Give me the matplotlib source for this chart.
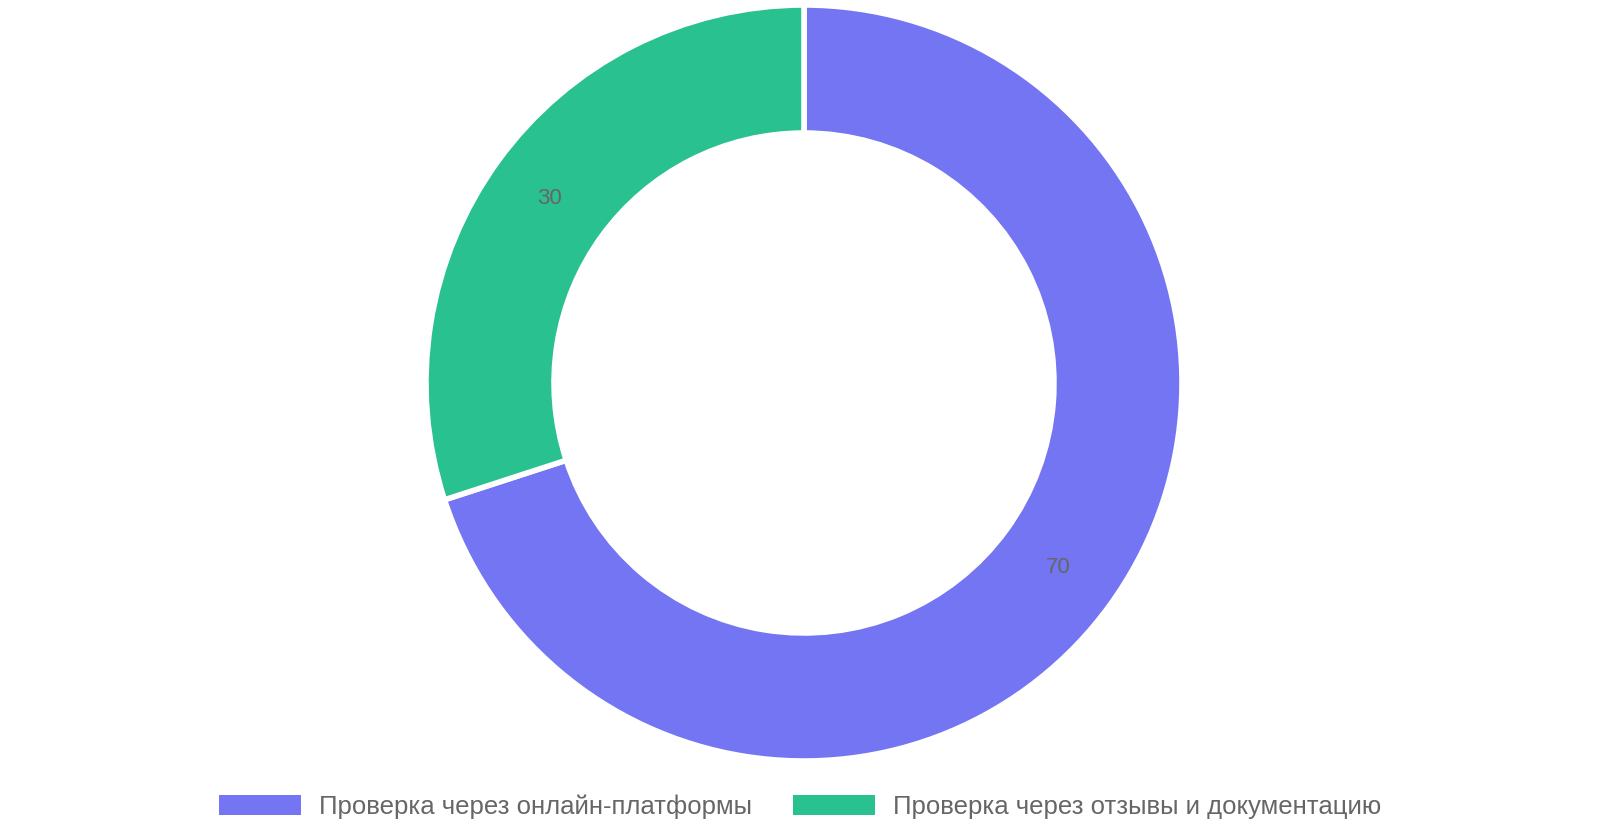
import matplotlib
matplotlib.use("Agg")
import matplotlib.pyplot as plt
from matplotlib.patches import Patch
import numpy as np

plt.rcParams['font.family'] = ['Liberation Sans', 'DejaVu Sans']

labels = ["Проверка через онлайн-платформы", "Проверка через отзывы и документацию"]
values = [70, 30]
colors = ["#7375F2", "#29C190"]

W, H = 1600, 840
fig = plt.figure(figsize=(16, 8.4), dpi=100)
ax = fig.add_axes([0, 0, 1, 1])
R = 378.0
cx, cy = 804, 383
inner = 250 / R
wedges, _ = ax.pie(values, colors=colors, startangle=90, counterclock=False, radius=1,
                   wedgeprops=dict(width=1 - inner, edgecolor='white', linewidth=4))
ax.set_xlim(-cx / R, (W - cx) / R)
ax.set_ylim(-(H - cy) / R, cy / R)
ax.set_aspect('equal')
ax.axis('off')

total = sum(values)
start = 90
rl = (1 + inner) / 2
for v in values:
    mid = start - v / total * 360 / 2
    ax.text(rl * np.cos(np.radians(mid)), rl * np.sin(np.radians(mid)), str(v),
            ha='center', va='center', fontsize=16, color='#666666')
    start -= v / total * 360

handles = [Patch(facecolor=c, edgecolor='none') for c in colors]
fig.legend(handles, labels, loc='center', bbox_to_anchor=(0.5, 0.04), ncol=2, frameon=False,
           fontsize=18.5, labelcolor='#666666', handlelength=3.2, handleheight=0.8,
           columnspacing=1.6, handletextpad=0.7)
fig.savefig("out.png", dpi=100)
